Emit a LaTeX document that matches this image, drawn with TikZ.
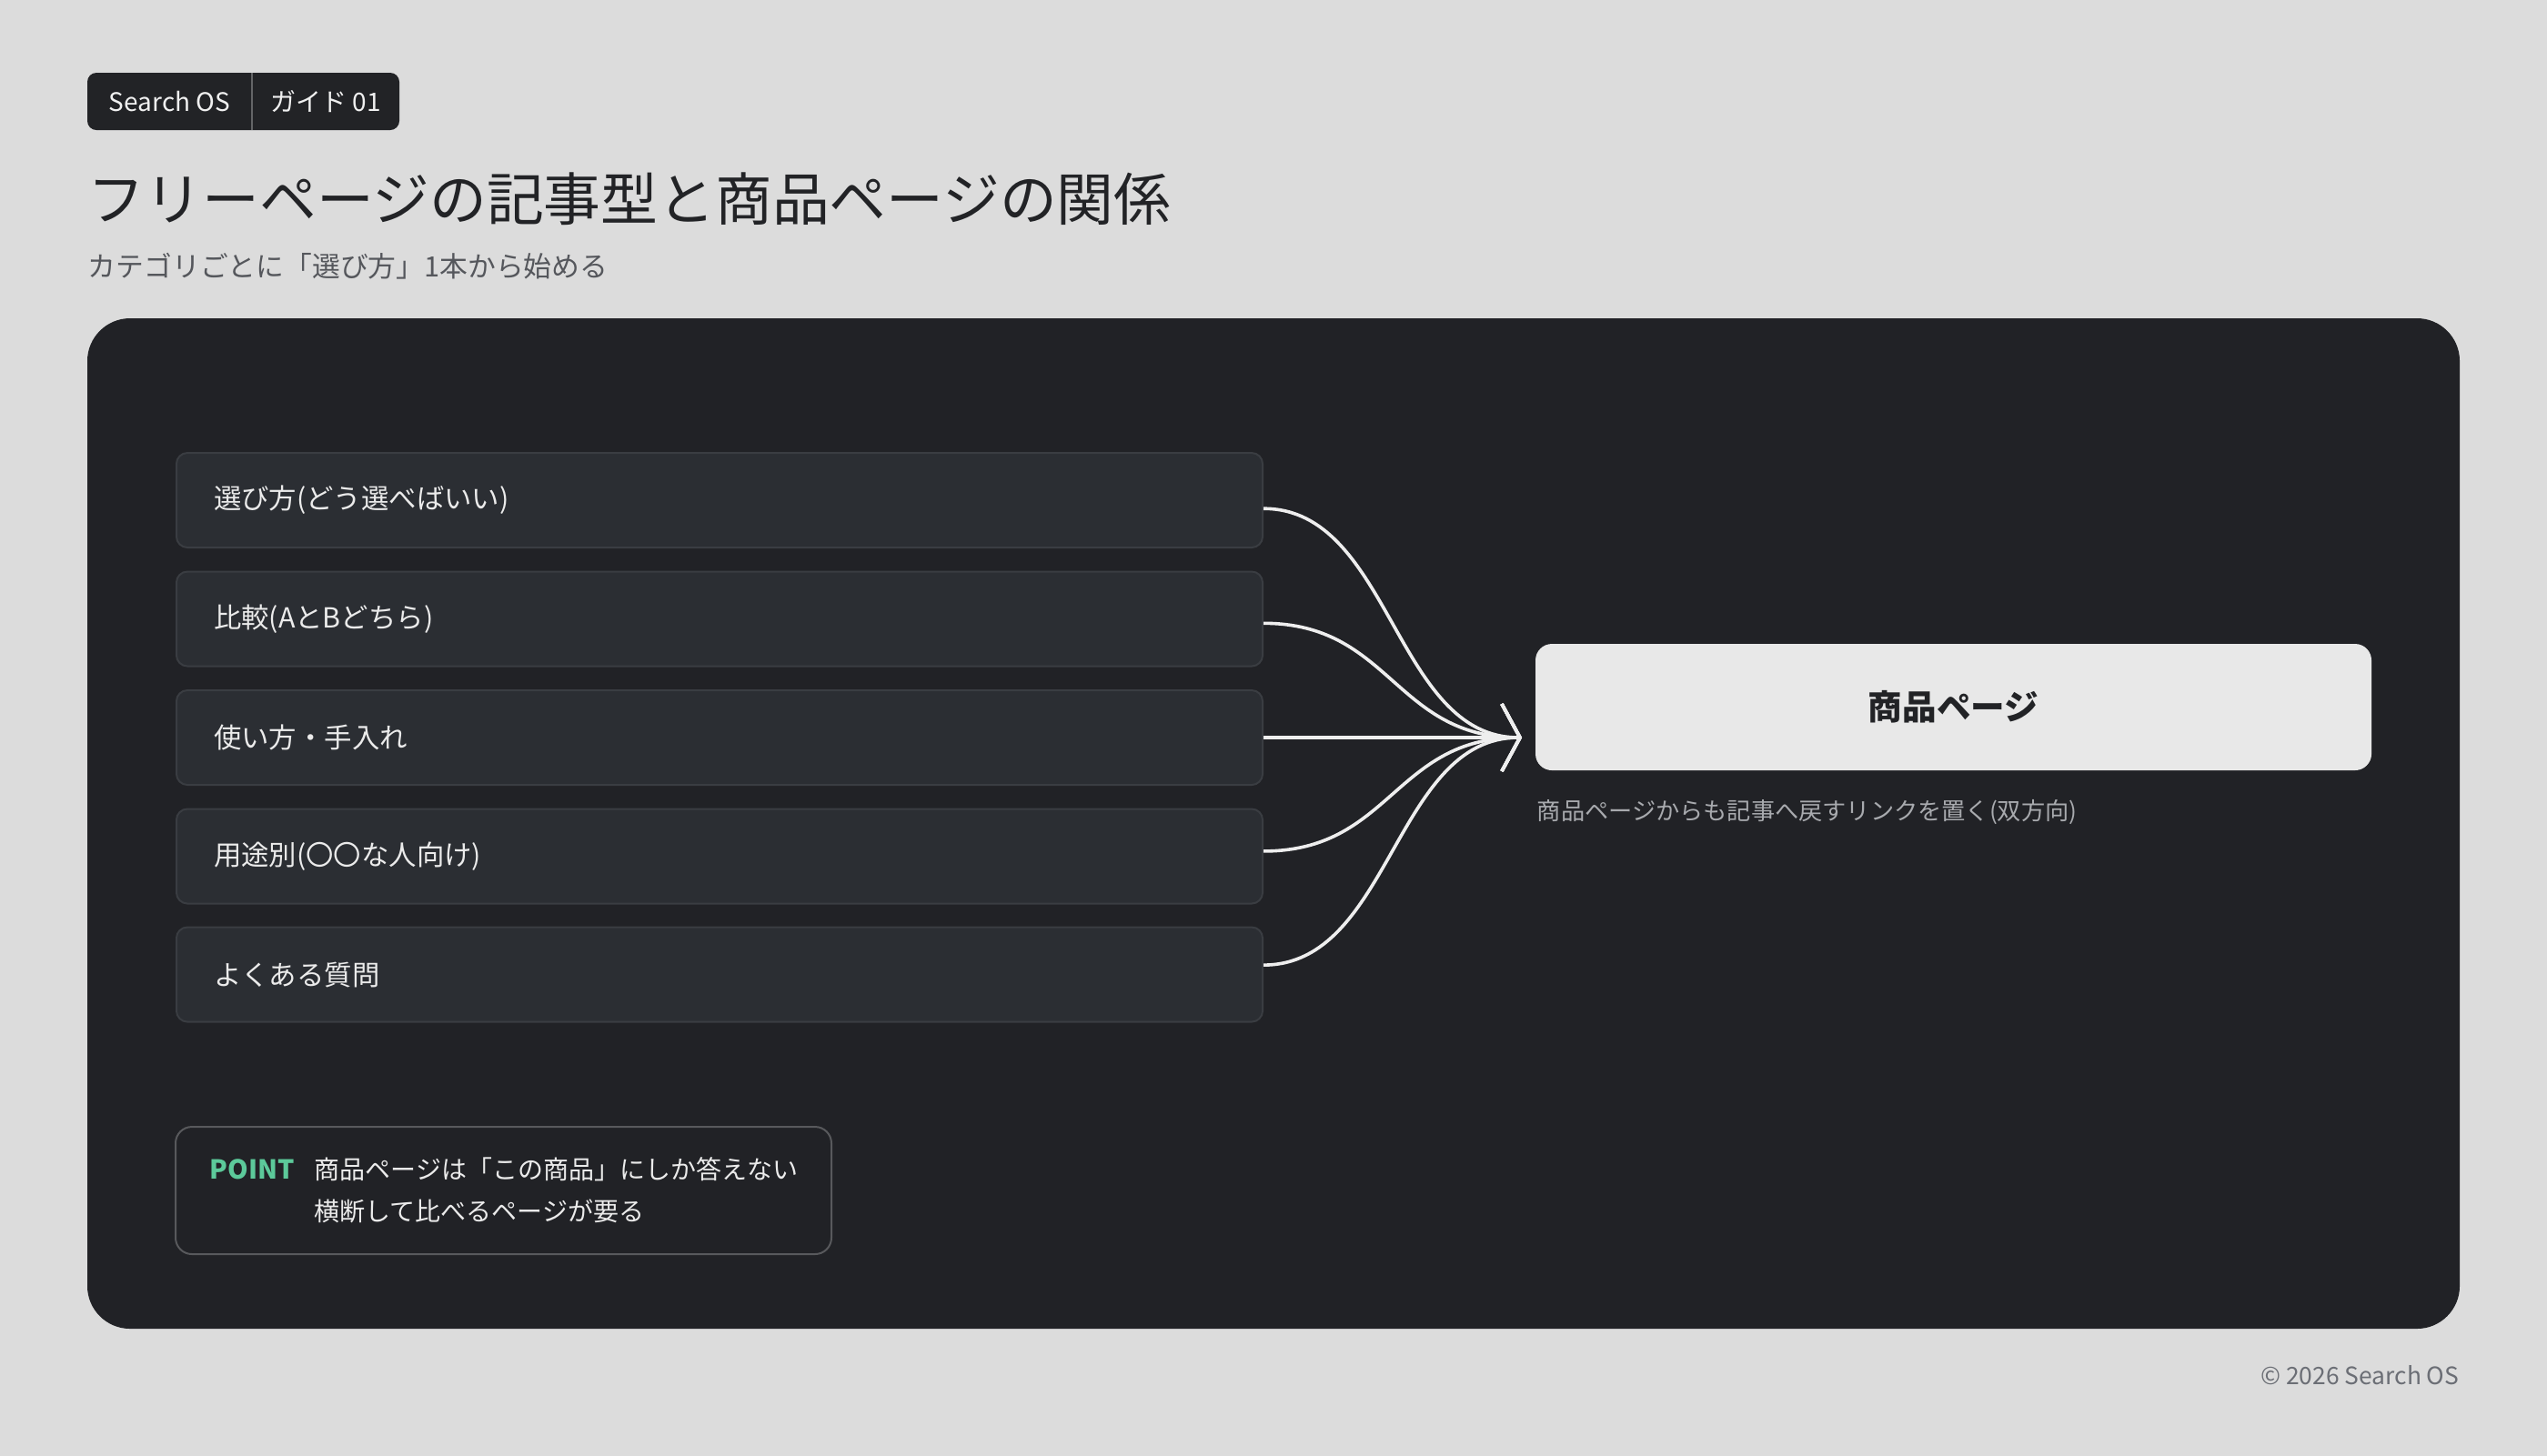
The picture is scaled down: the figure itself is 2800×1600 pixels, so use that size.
\documentclass[tikz,border=0pt]{standalone}
\usepackage{fontspec}
\setmainfont{Noto Sans CJK JP}
\usepackage{tikz}
\usetikzlibrary{arrows.meta,positioning,calc}
\definecolor{pagebg}{HTML}{DCDCDC}
\definecolor{panel}{HTML}{212226}
\definecolor{itemfill}{HTML}{2B2E33}
\definecolor{itemline}{HTML}{3A3D42}
\definecolor{inkdark}{HTML}{222326}
\definecolor{inkgray}{HTML}{55575C}
\definecolor{softgray}{HTML}{A8AAAE}
\definecolor{footgray}{HTML}{6B6E75}
\definecolor{pointgreen}{HTML}{5CC99A}
\definecolor{linkwhite}{HTML}{EEEEEE}
\newcommand{\sizept}[2]{\fontsize{#1pt}{#2pt}\selectfont}
\tikzstyle{item} = [draw=itemline,line width=0.5pt,fill=itemfill,rounded corners=3pt,minimum height=26pt,text width=278pt,inner xsep=10.25pt,align=left,anchor=west,text=white!92!black,font=\sizept{7.6}{9}]
\tikzstyle{prodbox} = [fill=white!91!black,rounded corners=4.5pt,minimum width=229.75pt,minimum height=34.75pt,text=inkdark,font=\bfseries\sizept{9.4}{11}]
\tikzstyle{pointbox} = [draw=white!25!panel,line width=0.5pt,fill=panel,rounded corners=4.5pt,minimum width=180.25pt,minimum height=35pt]
\tikzstyle{link} = [draw=linkwhite,line width=0.9pt,-{Straight Barb[length=5pt,width=18.5pt]}]
\tikzset{>=latex}

\begin{document}
\begin{tikzpicture}[x=0.25pt,y=-0.25pt,inner sep=0pt]
    \useasboundingbox (0,0) rectangle (2800,1600);
    \fill [pagebg,overlay] (-20,-20) rectangle (2820,1620);
    \fill [inkdark,rounded corners=2.5pt] (96,80) rectangle (439,143);
    \draw [white!30!inkdark,line width=0.5pt] (277,80) -- (277,143);
    \node [text=white!94!black,font=\sizept{7}{8}] (brand) at (186.5,111.5) {Search OS};
    \node [text=white!94!black,font=\sizept{7}{8}] (guide) at (358,111.5) {ガイド 01};
    \node [anchor=west,text=inkdark,font=\sizept{15.7}{18}] (title) at (96,219) {フリーページの記事型と商品ページの関係};
    \node [anchor=west,text=inkgray,font=\sizept{7.7}{9}] (subtitle) at (96,293) {カテゴリごとに「選び方」1本から始める};

    \fill [panel,rounded corners=11.75pt] (96,350) rectangle (2704,1461);

    \node [item] (s1) at (193,550) {選び方(どう選べばいい)};
    \node [item] (s2) at (193,680.5) {比較(AとBどちら)};
    \node [item] (s3) at (193,811) {使い方・手入れ};
    \node [item] (s4) at (193,941.5) {用途別(〇〇な人向け)};
    \node [item] (s5) at (193,1071.5) {よくある質問};

    \node [prodbox] (prod) at (2147.5,777.5) {商品ページ};
    \node [anchor=west,text=softgray,font=\sizept{6.55}{8}] (back) at (1689,893) {商品ページからも記事へ戻すリンクを置く(双方向)};
    \coordinate (tip) at (1673,811);

    \draw [link] ([yshift=-2.3pt]s1.east) .. controls +(140,0) and +(-140,0) .. (tip);
    \draw [link] ([yshift=-1.2pt]s2.east) .. controls +(140,0) and +(-140,0) .. (tip);
    \draw [link] (s3.east) -- (tip);
    \draw [link] ([yshift=1.4pt]s4.east) .. controls +(140,0) and +(-140,0) .. (tip);
    \draw [link] ([yshift=2.6pt]s5.east) .. controls +(140,0) and +(-140,0) .. (tip);

    \node [pointbox] (point) at (553.5,1309) {};
    \node [anchor=west,text=pointgreen,font=\bfseries\sizept{7.2}{8}] (pointtag) at (230,1286) {POINT};
    \node [anchor=west,align=left,text=white!92!black,font=\sizept{7}{11.5}] (pointtext) at (345,1309) {商品ページは「この商品」にしか答えない\\横断して比べるページが要る};

    \node [anchor=east,text=footgray,font=\sizept{6.6}{8}] (foot) at (2704,1512) {© 2026 Search OS};
  \end{tikzpicture}
\end{document}
